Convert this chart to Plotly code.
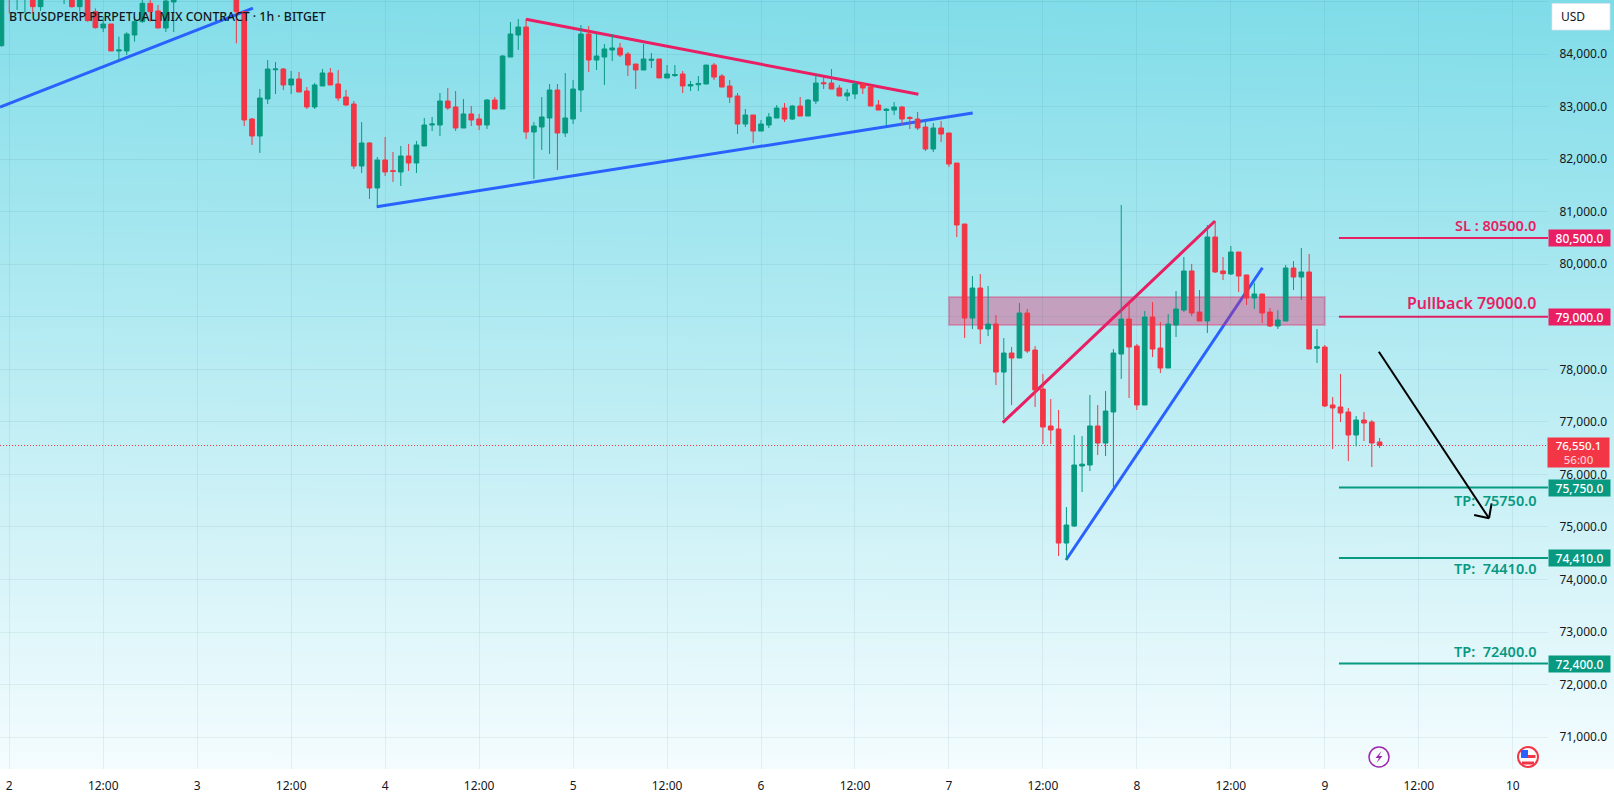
import pandas as pd
import plotly.graph_objects as go

# Hourly BTCUSDPERP candles, one row per calendar day; None marks bars outside the visible price window
opens = [84159,
    85500,85100,85120,85200,84901,None,None,85100,85200,84901,85200,84806,84495,84571,84058,84058,84362,84616,84965,84819,84495,84990,None,None,
    None,None,None,None,None,85300,84806,82764,82440,83144,83700,83715,83411,83525,83296,82992,83392,83639,83430,83182,83049,81869,82307,81451,
    81983,81780,81755,82060,81926,82250,82650,82649,83106,82992,82592,82859,82764,82649,83125,82954,83943,84362,84514,82516,82611,82783,83315,82497,
    82764,83315,84381,83886,83943,84077,84115,84000,83810,83696,83880,83905,83544,83590,83620,83392,83415,83429,83790,83581,83391,83201,82668,82839,
    82534,82648,82782,82972,82763,83010,82820,83105,83455,83448,83353,83201,83239,83429,83372,83029,82925,82934,82991,82790,82763,82611,82192,82592,
    82497,81925,80765,78976,79547,78767,78862,77948,78310,78215,79071,78367,77625,76921,76864,74694,75018,76160,76179,76921,76597,77188,78291,78957,
    78443,77321,78995,78405,78025,78843,79128,79871,79090,78919,80518,79871,79814,80232,79795,79357,79433,79090,78824,78919,79928,79756,79852,78400,
    78424,77321,77283,77188,76750,77035,76997,76617]
highs = [85500,
    85600,85400,85500,85300,85300,None,None,85400,85300,85300,85300,84869,84711,84571,84330,84413,84711,85100,85100,84933,85100,85200,None,None,
    None,None,None,None,None,85400,84806,82783,83334,83886,83848,83734,83677,83658,83372,83449,83715,83734,83696,83315,83106,82706,82326,82040,
    82421,82136,82250,82288,82345,82783,82802,83258,83353,83296,83144,83011,82859,83144,83182,83981,84609,84666,84666,82706,83182,83430,83430,83639,
    83506,84552,84533,84381,84191,84381,84210,84038,83810,84191,84020,83905,83791,83791,83677,83487,83582,83790,83829,83619,83505,83258,82953,82839,
    82744,82877,83029,83067,83029,83181,83143,83619,83562,83714,83410,83334,83467,83467,83410,83124,82972,83086,83010,82820,82896,82744,82687,82725,
    82497,81925,80765,79775,79813,79585,79033,78595,78424,79261,79147,78443,77910,77435,77225,75379,76749,76730,77511,77320,77587,78386,81127,79255,
    78482,79110,79281,78900,79052,79490,80137,80004,79509,80746,80822,80137,80346,80232,79795,79642,79433,79167,79128,79985,80061,80308,80194,78767,
    78462,77473,77911,77264,77111,77188,77035,76693]
lows = [84140,
    84774,84838,84774,84774,84819,None,None,84952,84882,84806,84616,84483,84419,84058,83886,83981,84235,84597,84616,84495,84419,84419,None,None,
    None,None,None,None,None,84203,82630,82269,82117,83049,83239,83315,83239,83277,82954,82954,83392,83411,83106,83011,81812,81736,81241,81108,
    81679,81565,81489,81774,81736,82250,82535,82440,82935,82535,82592,82630,82554,82573,82954,82954,83943,84077,82383,81622,82174,82098,81793,82421,
    82668,82897,83658,83696,83411,83867,83943,83582,83334,83696,83734,83544,83544,83563,83258,83296,83296,83429,83505,83372,83067,82478,82611,82306,
    82534,82592,82782,82706,82744,82820,82820,83048,83334,83334,83201,83105,83143,83239,83010,82934,82648,82839,82648,82572,82553,82154,82135,82325,
    81849,80517,78595,78767,78481,78633,77701,77054,77320,78215,78310,77282,76578,76578,74447,74371,74999,75665,76064,76369,76350,75760,77816,77454,
    77226,77321,78234,77930,78025,78615,79090,79014,78919,78691,79833,79699,79795,79471,79224,79148,78881,78805,78767,78919,79509,79319,78386,78120,
    77283,76483,76997,76255,76534,76636,76141,76503]
closes = [85400,
    85100,85300,85350,84901,85150,None,None,85300,84901,85200,84635,84502,84571,84058,84077,84381,84616,84965,84806,84495,85009,85120,None,None,
    None,None,None,None,None,84806,82745,82440,83163,83715,83715,83411,83525,83277,82992,83411,83639,83411,83163,83030,81869,82307,81451,81983,
    81755,81767,82060,81926,82269,82649,82668,83106,82973,82592,82859,82745,82649,83125,82954,83962,84381,84514,82516,82630,82802,83315,82497,82783,
    83334,84381,83886,83962,84096,84115,83981,83791,83696,83905,83900,83544,83620,83610,83392,83420,83440,83790,83562,83372,83181,82668,82839,82534,
    82668,82801,82972,82763,83010,82820,83124,83448,83435,83334,83201,83258,83429,83353,83010,82934,82950,82991,82763,82775,82592,82192,82592,82477,
    81907,80746,78976,79547,78767,78862,77948,78310,78215,79071,78348,77606,76902,76845,74694,75037,76179,76195,76921,76597,77206,78310,78957,78424,
    77321,78995,78386,78025,78862,79148,79871,79071,78919,80518,79852,79820,80232,79775,79357,79433,79071,78824,78938,79928,79756,79852,78386,78430,
    77302,77264,77168,76750,77035,76978,76598,76550.1]
bar_times = pd.date_range("2025-04-01 23:00", periods=len(opens), freq="h")

price_ticks = [85000,84000,83000,82000,81000,80000,79000,78000,77000,76000,75000,74000,73000,72000,71000]
# 85,000 sits on the pane edge and 79,000 sits behind its level tag, so neither prints a scale label
price_tick_text = ["","84,000.0","83,000.0","82,000.0","81,000.0","80,000.0","","78,000.0","77,000.0",
                   "76,000.0","75,000.0","74,000.0","73,000.0","72,000.0","71,000.0"]
time_ticks = ["2025-04-02 00:00","2025-04-02 12:00","2025-04-03 00:00","2025-04-03 12:00","2025-04-04 00:00","2025-04-04 12:00",
              "2025-04-05 00:00","2025-04-05 12:00","2025-04-06 00:00","2025-04-06 12:00","2025-04-07 00:00","2025-04-07 12:00",
              "2025-04-08 00:00","2025-04-08 12:00","2025-04-09 00:00","2025-04-09 12:00","2025-04-10 00:00"]
time_tick_text = ["2","12:00","3","12:00","4","12:00","5","12:00","6","12:00","7","12:00","8","12:00","9","12:00","10"]
time_window = ["2025-04-01 22:49","2025-04-10 04:30"]
price_window = [70394,85028]

# Trend lines as (start time, start price, end time, end price)
blue_trends = [("2025-04-01 22:49",82991,"2025-04-03 07:07",84875),
               ("2025-04-03 22:55",81094,"2025-04-07 03:02",82877),
               ("2025-04-07 14:57",74371,"2025-04-08 16:02",79933)]
pink_trends = [("2025-04-04 17:59",84660,"2025-04-06 20:06",83233),
               ("2025-04-07 06:52",76984,"2025-04-08 09:59",80822)]

# Pullback zone, forecast arrow and trade levels
zone_times = ["2025-04-07 00:00","2025-04-09 00:00"]
zone_prices = [78843,79376]
arrow_times = ["2025-04-09 06:54","2025-04-09 20:58","2025-04-09 19:04","2025-04-09 20:58","2025-04-09 21:18"]
arrow_prices = [78335,75165,75227,75165,75450]
level_start = "2025-04-09 01:48"
last_price = 76550.1
pink_levels = [80500,79000]
green_levels = [75750,74410,72400]

GREEN, RED, PINK, BLUE = "#089981", "#F23645", "#E91E63", "#2962FF"
INK = "#131722"
W, H = 1614, 798
AXIS_X, AXIS_Y = 1548, 769


def fx(x):
    return x / W


def fy(y):
    return 1 - y / H


fig = go.Figure()

# Backdrop wash spanning the plot and price scale
fig.add_trace(go.Heatmap(z=[[0, 0], [0.95, 1]], x=[0, 1], y=[0, 1], zmin=0, zmax=1, zsmooth="best",
                         colorscale=[[0, "#f4fcfe"], [1, "#7edce8"]], showscale=False, hoverinfo="skip",
                         xaxis="x", yaxis="y"))

fig.add_trace(go.Candlestick(x=bar_times, open=opens, high=highs, low=lows, close=closes, xaxis="x2", yaxis="y2",
                             whiskerwidth=0,
                             increasing=dict(line=dict(color=GREEN, width=1), fillcolor=GREEN),
                             decreasing=dict(line=dict(color=RED, width=1), fillcolor=RED)))

shapes = []


def data_line(x0, y0, x1, y1, color, width=2, dash="solid"):
    return dict(type="line", xref="x2", yref="y2", x0=x0, y0=y0, x1=x1, y1=y1, layer="below",
                line=dict(color=color, width=width, dash=dash))


for seg in blue_trends:
    shapes.append(data_line(*seg, BLUE, 3))
for seg in pink_trends:
    shapes.append(data_line(*seg, PINK, 3))
shapes.append(dict(type="rect", xref="x2", yref="y2", x0=zone_times[0], x1=zone_times[1], y0=zone_prices[0], y1=zone_prices[1],
                   layer="below", fillcolor="rgba(233,30,99,0.36)", line=dict(color="rgba(233,30,99,0.3)", width=2)))
shapes.append(data_line(time_window[0], last_price, time_window[1], last_price, RED, 1, "1px,2px"))
for lvl in pink_levels:
    shapes.append(data_line(level_start, lvl, time_window[1], lvl, PINK, 2))
for lvl in green_levels:
    shapes.append(data_line(level_start, lvl, time_window[1], lvl, GREEN, 2))
for i in range(len(arrow_times) - 1):
    if i != 1:
        shapes.append(data_line(arrow_times[i], arrow_prices[i], arrow_times[i + 1], arrow_prices[i + 1], "#000000", 2))

# Currency button on the price scale
shapes.append(dict(type="rect", xref="paper", yref="paper", x0=fx(1552), x1=fx(1610), y0=fy(30), y1=fy(3.5),
                   fillcolor="#ffffff", line=dict(color="rgba(224,227,235,0.7)", width=1)))

# Event markers along the bottom of the pane
shapes.append(dict(type="circle", xref="paper", yref="paper", x0=fx(1369), x1=fx(1389), y0=fy(767), y1=fy(747),
                   fillcolor="rgba(255,255,255,0.5)", line=dict(color="#9C27B0", width=1.5)))
bolt = [(1381.5, 751), (1375.5, 758), (1379, 758), (1376.5, 763), (1382.5, 756), (1379, 756)]
shapes.append(dict(type="path", xref="paper", yref="paper", fillcolor="#9C27B0", line=dict(width=0),
                   path="M " + " L ".join(f"{fx(x):.5f},{fy(y):.5f}" for x, y in bolt) + " Z"))
shapes.append(dict(type="circle", xref="paper", yref="paper", x0=fx(1518), x1=fx(1538), y0=fy(767), y1=fy(747),
                   fillcolor="#ffffff", line=dict(color=RED, width=2)))
shapes.append(dict(type="rect", xref="paper", yref="paper", x0=fx(1521), x1=fx(1528), y0=fy(758), y1=fy(750),
                   fillcolor=BLUE, line=dict(width=0)))
shapes.append(dict(type="rect", xref="paper", yref="paper", x0=fx(1528), x1=fx(1535.5), y0=fy(758), y1=fy(755),
                   fillcolor=RED, line=dict(width=0)))
shapes.append(dict(type="rect", xref="paper", yref="paper", x0=fx(1522), x1=fx(1534), y0=fy(764.5), y1=fy(761.5),
                   fillcolor=RED, line=dict(width=0)))

annotations = []


def label(text, size, color, px, py, anchor="left", weight=400, family="Noto Sans"):
    annotations.append(dict(text=text, xref="paper", yref="paper", x=fx(px), y=fy(py), xanchor=anchor, yanchor="middle",
                            showarrow=False, font=dict(family=family, size=size, color=color, weight=weight)))


label("BTCUSDPERP PERPETUAL MIX CONTRACT · 1h · BITGET", 12.3, INK, 6.5, 16, weight=500)
label("USD", 12, INK, 1558.5, 17)


def level_tag(price, text, color):
    annotations.append(dict(text=text, xref="paper", yref="y2", x=fx(1579), y=price, xanchor="center", yanchor="middle",
                            showarrow=False, bgcolor=color, width=59, height=14, borderpad=1, align="center",
                            font=dict(family="Noto Sans", size=12, color="#ffffff", weight=500)))


for lvl in pink_levels:
    level_tag(lvl, f"{lvl:,.1f}", PINK)
for lvl in green_levels:
    level_tag(lvl, f"{lvl:,.1f}", GREEN)

annotations.append(dict(text=f"{last_price:,.1f}<br><span style='color:#ffc9cf'>56:00</span>", xref="paper", yref="paper",
                        x=fx(1578.5), y=fy(452), xanchor="center", yanchor="middle", showarrow=False, bgcolor=RED,
                        width=59, height=27, borderpad=1, align="center",
                        font=dict(family="Noto Sans", size=11.5, color="#ffffff", weight=500)))


def level_note(text, price, shift, color, size=14.5):
    annotations.append(dict(text=text, xref="paper", yref="y2", x=fx(1538), y=price, yshift=shift, xanchor="right",
                            yanchor="middle", showarrow=False,
                            font=dict(family="Noto Sans", size=size, color=color, weight=600)))


level_note("SL : 80500.0", 80500, 13, PINK)
level_note("Pullback 79000.0", 79000, 14, PINK, 16)
level_note("TP:  75750.0", 75750, -12, GREEN)
level_note("TP:  74410.0", 74410, -10, GREEN)
level_note("TP:  72400.0", 72400, 12.5, GREEN)

GRID = "rgba(30,90,110,0.08)"
fig.update_layout(
    width=W, height=H, autosize=False, margin=dict(l=0, r=0, t=0, b=0),
    paper_bgcolor="#ffffff", plot_bgcolor="rgba(0,0,0,0)", showlegend=False,
    shapes=shapes, annotations=annotations, boxgap=0.15,
    xaxis=dict(domain=[0, 1], range=[0, 1], visible=False, fixedrange=True),
    yaxis=dict(domain=[1 - AXIS_Y / H, 1], range=[0, 1], visible=False, fixedrange=True),
    xaxis2=dict(domain=[0, AXIS_X / W], anchor="y2", type="date", range=time_window, rangeslider=dict(visible=False),
                tickmode="array", tickvals=time_ticks, ticktext=time_tick_text, showgrid=True, gridcolor=GRID, gridwidth=1,
                showline=False, zeroline=False, ticks="outside", ticklen=6, tickcolor="rgba(0,0,0,0)",
                tickfont=dict(family="Noto Sans", size=12, color=INK)),
    yaxis2=dict(domain=[1 - AXIS_Y / H, 1], anchor="x2", side="right", range=price_window,
                tickmode="array", tickvals=price_ticks, ticktext=price_tick_text, showgrid=True, gridcolor=GRID, gridwidth=1,
                showline=False, zeroline=False, ticks="outside", ticklen=8, tickcolor="rgba(0,0,0,0)",
                tickfont=dict(family="Noto Sans", size=12, color=INK)),
)

fig.write_html("out.html", config=dict(displayModeBar=False))
